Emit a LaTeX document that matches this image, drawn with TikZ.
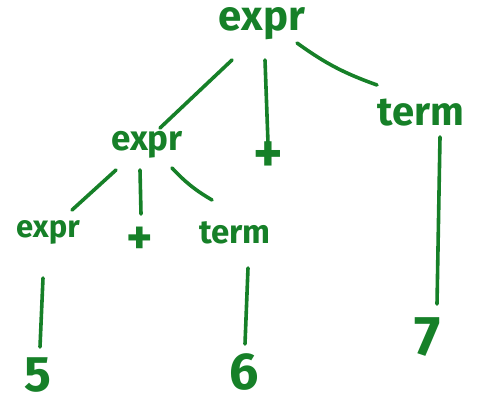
\documentclass[tikz,border=0pt]{standalone}
\usepackage{fontspec}
\setmainfont{Fira Sans}
\definecolor{pen}{RGB}{22,128,40}
\begin{document}
\begin{tikzpicture}[x=1pt,y=-1pt,
  lab/.style={text=pen,inner sep=0pt,font=\fontsize{#1}{#1}\selectfont\bfseries},
  edge/.style={draw=pen,line width=3.6pt,line cap=round}]
\useasboundingbox (0,0) rectangle (481,409);
\node[lab=42] (e0) at (262,24) {expr};
\node[lab=35] (e1) at (147,145) {expr};
\node[lab=56] (p0) at (268,157) {+};
\node[lab=40] (t0) at (421,113) {term};
\node[lab=31] (e2) at (48,232) {expr};
\node[lab=50] (p1) at (140,241) {+};
\node[lab=33] (t1) at (235,233) {term};
\node[lab=50] (n5) at (38,375) {5};
\node[lab=52] (n6) at (244,372) {6};
\node[lab=56] (n7) at (428,337) {7};
\coordinate (a1) at (232,60); \coordinate (b1) at (160,128);
\coordinate (a2) at (265,60); \coordinate (b2) at (268,143);
\coordinate (a3) at (297,43); \coordinate (b3) at (377,85);
\coordinate (a4) at (116,170); \coordinate (b4) at (72,210);
\coordinate (a5) at (140,170); \coordinate (b5) at (141,214);
\coordinate (a6) at (172,168); \coordinate (b6) at (212,200);
\coordinate (a7) at (43,278); \coordinate (b7) at (40,347);
\coordinate (a8) at (248,268); \coordinate (b8) at (245,344);
\coordinate (a9) at (440,137); \coordinate (b9) at (437,304);
\path[edge] (a1) -- (b1);
\path[edge] (a2) -- (b2);
\path[edge] (a3) to[bend right=8] (b3);
\path[edge] (a4) -- (b4);
\path[edge] (a5) -- (b5);
\path[edge] (a6) to[bend right=8] (b6);
\path[edge] (a7) -- (b7);
\path[edge] (a8) -- (b8);
\path[edge] (a9) -- (b9);
\end{tikzpicture}
\end{document}
